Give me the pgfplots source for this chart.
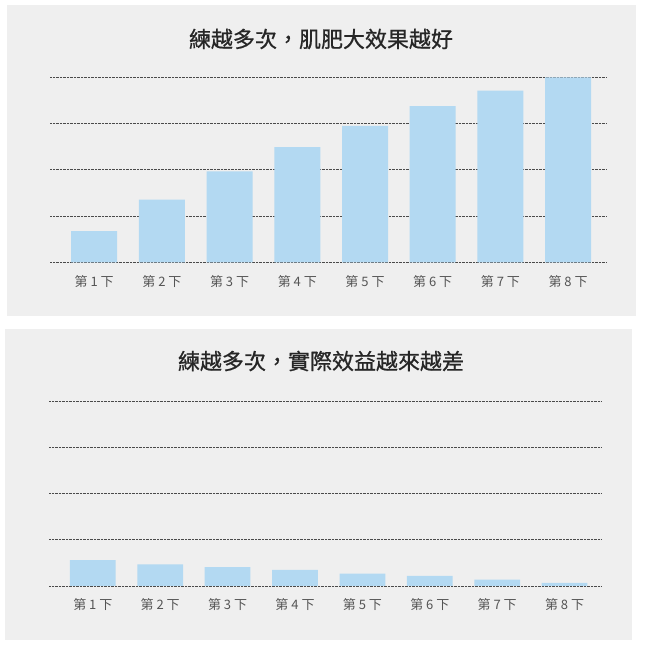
\documentclass[border=0pt]{standalone}
\usepackage{fontspec}
\setmainfont{Liberation Sans}
\newfontfamily\cjk{Noto Sans CJK TC}
\newfontfamily\cjktitle[FakeBold=0.8]{Noto Sans CJK TC}
\usepackage{pgfplots}
\pgfplotsset{compat=1.18}

\definecolor{panelbg}{HTML}{EFEFEF}
\definecolor{barblue}{HTML}{B3D9F2}
\definecolor{gridgray}{HTML}{4A4A4A}
\definecolor{labelgray}{HTML}{555555}
\definecolor{titleblack}{HTML}{262626}

\pgfplotsset{
  panel/.style={
    scale only axis,
    anchor=south west,
    ymin=0, ymax=4,
    ytick={0,1,2,3,4},
    yticklabels={},
    xtick={1,2,3,4,5,6,7,8},
    xticklabels={第 1 下,第 2 下,第 3 下,第 4 下,第 5 下,第 6 下,第 7 下,第 8 下},
    x tick label style={font=\cjk\fontsize{9.75}{10}\selectfont, text=labelgray,
      anchor=center, yshift=-14.25pt},
    axis line style={draw=none},
    major tick length=0pt,
    ymajorgrids=true,
    grid style={gridgray, line width=0.7pt, dash pattern=on 0.6pt off 0.45pt},
    ybar,
  },
}

\begin{document}
\begin{tikzpicture}
\begin{scope}[x=0.75pt,y=0.75pt]
  \fill[white] (0,0) rectangle (645,650);
  \fill[panelbg] (7,334) rectangle (636,645);
  \fill[panelbg] (5,10) rectangle (632,321);
  \node[font=\cjktitle\fontsize{16.5}{17}\selectfont, text=titleblack]
    at (321,611) {練越多次，肌肥大效果越好};
  \node[font=\cjktitle\fontsize{16.5}{17}\selectfont, text=titleblack]
    at (321,289) {練越多次，實際效益越來越差};
\end{scope}

% top: muscle growth keeps rising
\begin{axis}[panel,
  at={(37.5pt,290.625pt)},
  width=417pt, height=138.9pt,
  xmin=0.347, xmax=8.56,
  bar width=34.5pt,
]
\addplot[fill=barblue, draw=none] coordinates {
  (1,0.68) (2,1.36) (3,1.97) (4,2.49) (5,2.95) (6,3.38) (7,3.71) (8,4.00)
};
\end{axis}

% bottom: gain per rep keeps falling
\begin{axis}[panel,
  at={(36.75pt,48pt)},
  width=414.5pt, height=138.75pt,
  xmin=0.35, xmax=8.55,
  bar width=34.3pt,
]
\addplot[fill=barblue, draw=none] coordinates {
  (1,0.56) (2,0.47) (3,0.41) (4,0.35) (5,0.27) (6,0.22) (7,0.14) (8,0.07)
};
\end{axis}
\end{tikzpicture}
\end{document}
